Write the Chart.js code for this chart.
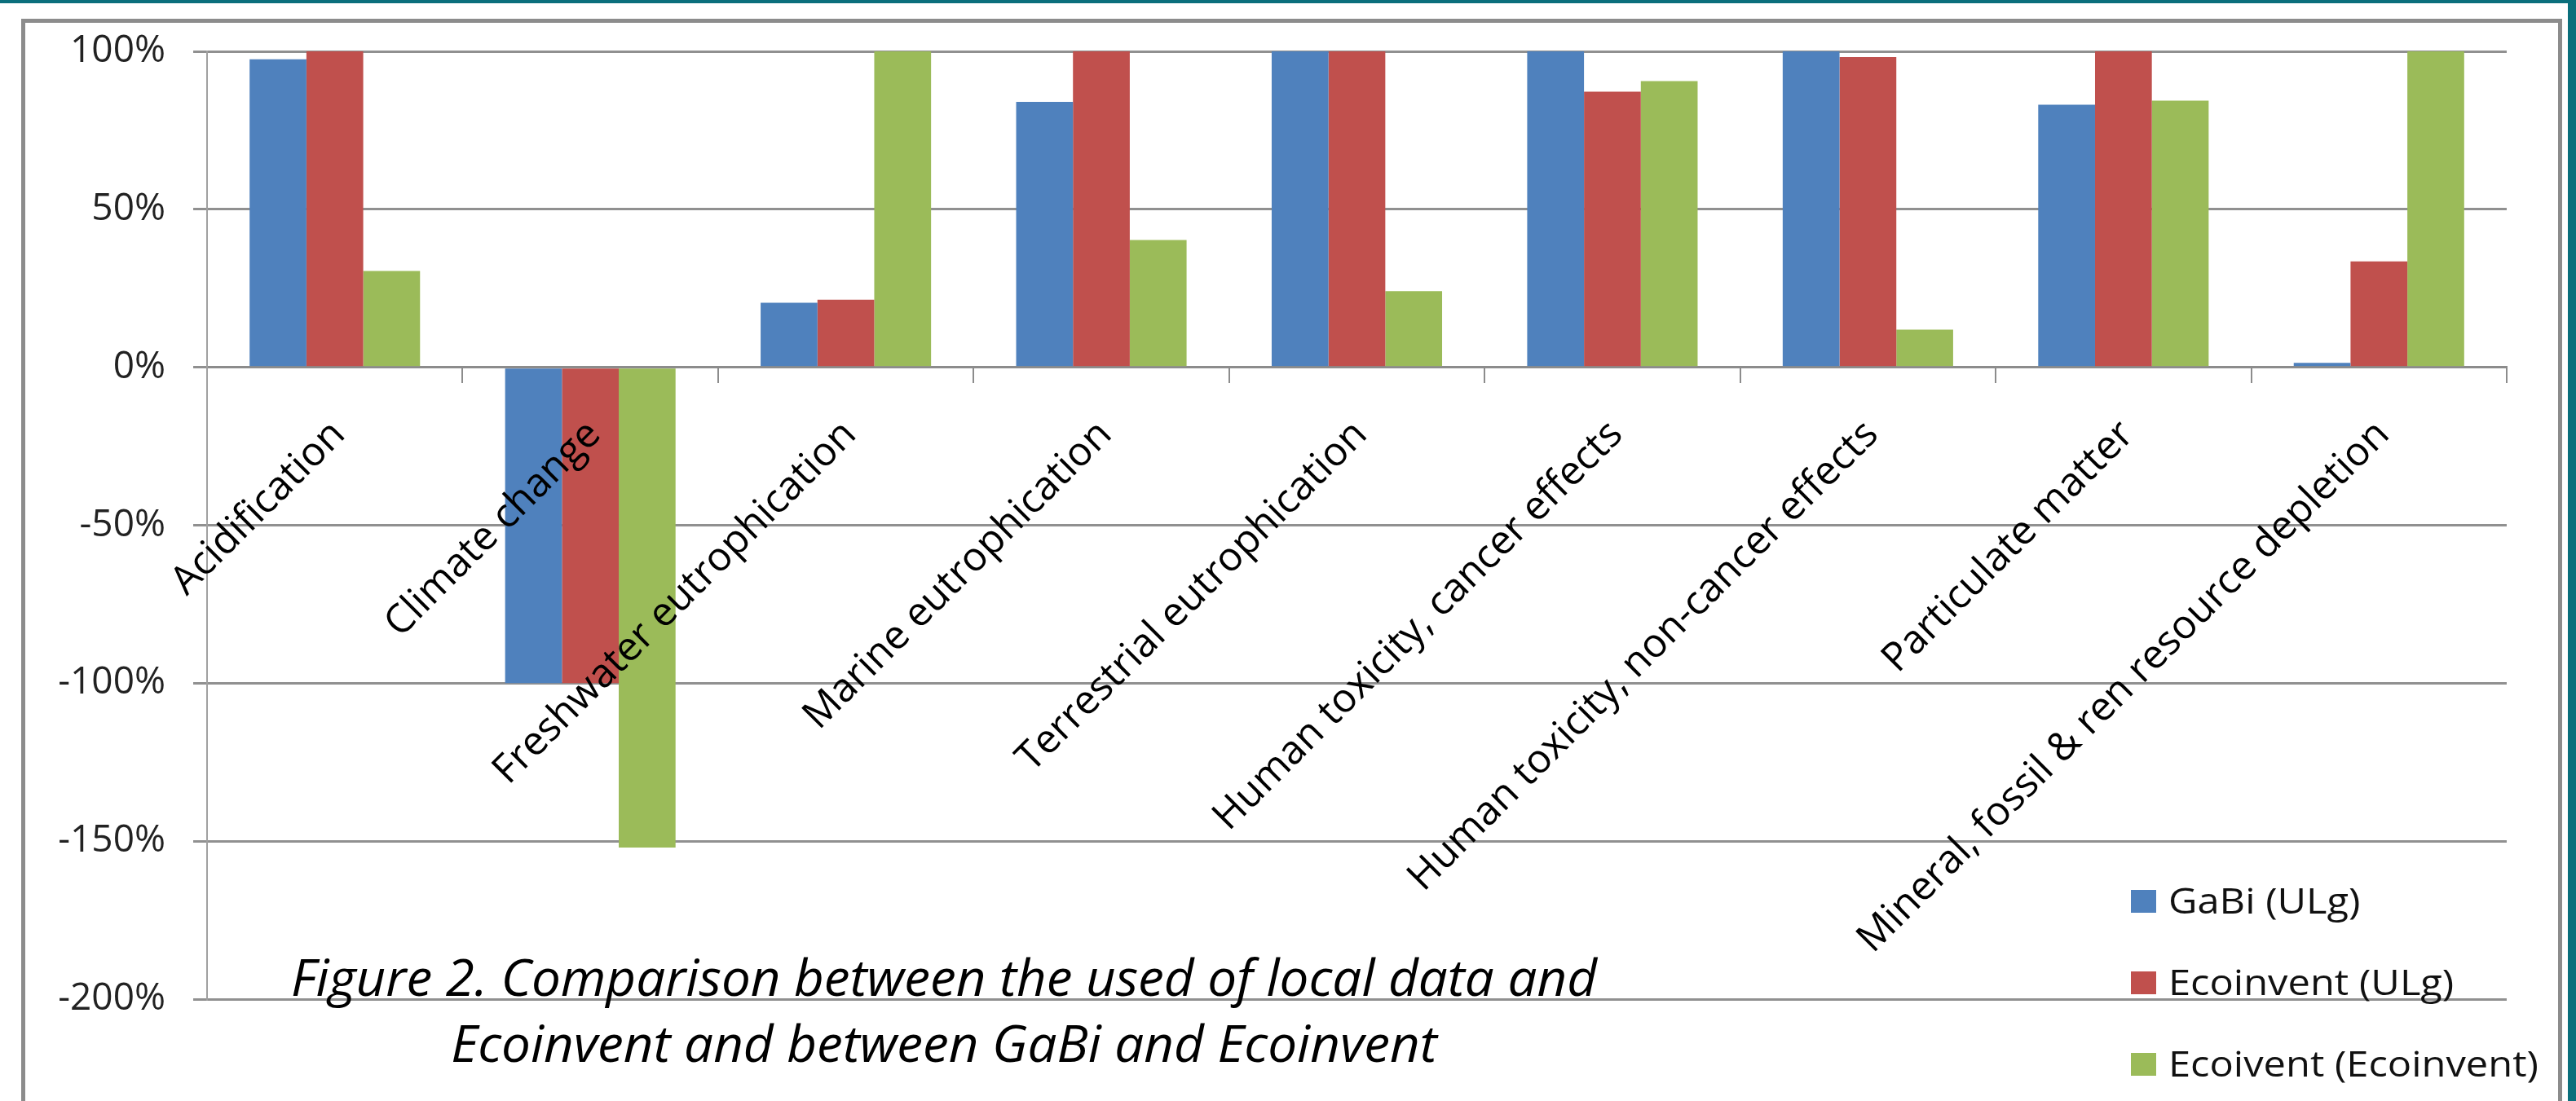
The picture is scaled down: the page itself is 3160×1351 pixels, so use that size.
<!DOCTYPE html>
<html>
<head>
<meta charset="utf-8">
<script src="https://cdn.jsdelivr.net/npm/chart.js@4.4.1/dist/chart.umd.min.js"></script>
<style>
    html, body { margin: 0; padding: 0; background: #fff; }
    #wrap { position: relative; width: 3160px; height: 1351px; overflow: hidden; }
    #grafico { position: absolute; left: 0; top: 0; }
    .teal { position: absolute; background: #0b6f7c; }
    .marco { position: absolute; left: 26px; top: 23px; width: 3117px; height: 1420px;
             border: 5px solid #8c8c8c; box-sizing: border-box; pointer-events: none; }
</style>
</head>
<body>
<div id="wrap">
    <canvas id="grafico" width="3160" height="1351"></canvas>
    <div class="marco"></div>
    <div class="teal" style="left:0;top:0;width:3160px;height:4px"></div>
    <div class="teal" style="left:3150px;top:0;width:10px;height:1351px"></div>
</div>
<script>
const categorias = [
    'Acidification',
    'Climate change',
    'Freshwater eutrophication',
    'Marine eutrophication',
    'Terrestrial eutrophication',
    'Human toxicity, cancer effects',
    'Human toxicity, non-cancer effects',
    'Particulate matter',
    'Mineral, fossil & ren resource depletion'
];
const series = ['GaBi (ULg)', 'Ecoinvent (ULg)', 'Ecoivent (Ecoinvent)'];
const gabiUlg = [97.5, -100, 20.4, 84, 100, 100, 100, 83.1, 1.4];
const ecoinventUlg = [100, -100, 21.4, 100, 100, 87.2, 98.2, 100, 33.5];
const ecoinventEcoinvent = [30.5, -152, 100, 40.3, 24.1, 90.6, 11.9, 84.4, 100];
const ejeMin = -200;
const ejeMax = 100;
const ejePaso = 50;

const colores = ['#4f81bd', '#c0504d', '#9bbb59'];
const caption = [
    'Figure 2. Comparison between the used of local data and',
    'Ecoinvent and between GaBi and Ecoinvent'
];
const fuente = '"Open Sans", "Noto Sans", sans-serif';

// leyenda dibujada a mano en la esquina inferior derecha
const leyendaPlugin = {
    id: 'leyendaManual',
    afterDraw(chart) {
        const ctx = chart.ctx;
        ctx.save();
        ctx.font = `44px ${fuente}`;
        ctx.textBaseline = 'middle';
        ctx.fillStyle = '#111';
        const largo = Math.max(...chart.data.datasets.map(d => ctx.measureText(d.label).width));
        const escala = 454 / largo;
        chart.data.datasets.forEach((d, i) => {
            const y = 1106 + i * 100;
            ctx.fillStyle = d.backgroundColor;
            ctx.fillRect(2614, y - 14, 31, 28);
            ctx.fillStyle = '#111';
            ctx.save();
            ctx.translate(2660, y + 2);
            ctx.scale(escala, 1);
            ctx.fillText(d.label, 0, 0);
            ctx.restore();
        });
        ctx.restore();
    }
};

// pie de figura en cursiva encima del grafico
const piePlugin = {
    id: 'pieFigura',
    afterDraw(chart) {
        const ctx = chart.ctx;
        ctx.save();
        ctx.font = `italic 63px ${fuente}`;
        ctx.fillStyle = '#000';
        ctx.textAlign = 'center';
        ctx.textBaseline = 'alphabetic';
        const escala = 1602 / ctx.measureText(caption[0]).width;
        caption.forEach((linea, i) => {
            ctx.save();
            ctx.translate(1158, 1222 + i * 81);
            ctx.scale(escala, 1);
            ctx.fillText(linea, 0, 0);
            ctx.restore();
        });
        ctx.restore();
    }
};

const ctxBar = document.getElementById('grafico').getContext('2d');
new Chart(ctxBar, {
    type: 'bar',
    data: {
        labels: categorias,
        datasets: [gabiUlg, ecoinventUlg, ecoinventEcoinvent].map((valores, i) => ({
            label: series[i],
            data: valores,
            backgroundColor: colores[i],
            borderWidth: 0,
            categoryPercentage: 0.667,
            barPercentage: 1.0
        }))
    },
    options: {
        responsive: false,
        animation: false,
        layout: {
            padding: { top: 63, right: 85, bottom: 125, left: 0 }
        },
        plugins: {
            legend: { display: false },
            tooltip: { enabled: false }
        },
        scales: {
            x: {
                position: { y: 0 },
                grid: {
                    offset: true,
                    drawOnChartArea: false,
                    drawTicks: true,
                    tickLength: 18,
                    color: '#8c8c8c',
                    lineWidth: 2
                },
                border: { display: true, color: '#8c8c8c', width: 3 },
                ticks: {
                    z: 1, // etiquetas por encima de las barras
                    autoSkip: false,
                    minRotation: 45,
                    maxRotation: 45,
                    padding: 36,
                    labelOffset: 5,
                    color: '#000',
                    font: { family: fuente, size: 49 }
                }
            },
            y: {
                min: ejeMin,
                max: ejeMax,
                afterFit(scale) { scale.width = 254; },
                grid: {
                    color: '#909090',
                    lineWidth: 3,
                    tickLength: 17
                },
                border: { display: true, color: '#a0a0a0', width: 2 },
                ticks: {
                    stepSize: ejePaso,
                    padding: 34,
                    color: '#222',
                    font: { family: fuente, size: 46 },
                    callback: v => v + '%'
                }
            }
        }
    },
    plugins: [leyendaPlugin, piePlugin]
});
</script>
</body>
</html>
